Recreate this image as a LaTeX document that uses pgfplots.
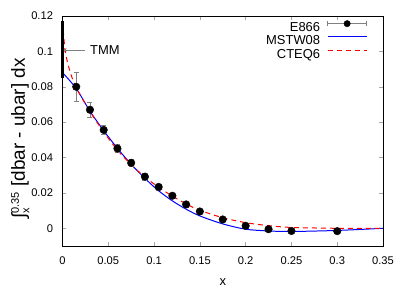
\documentclass[border=0pt]{standalone}
\usepackage{pgfplots}
\pgfplotsset{compat=1.18}
\usepackage{fontspec}
\setmainfont{Liberation Sans}
\setsansfont{Liberation Sans}
\begin{document}
\begin{tikzpicture}
\begin{axis}[
  at={(62.5bp,45bp)}, anchor=south west,
  scale only axis, width=320.5bp, height=230bp,
  xmin=0, xmax=0.35, ymin=-0.01, ymax=0.12,
  xtick={0,0.05,...,0.35}, ytick={0,0.02,...,0.12},
  scaled x ticks=false, scaled y ticks=false,
  /pgf/number format/assume math mode=true,
  /pgf/number format/fixed,
  /pgf/number format/precision=2,
  tick label style={font=\fontsize{11.2}{13}\selectfont},
  tick align=inside, major tick length=4bp,
  tick style={gray!70, thin},
  axis line style={black, thin},
  xlabel={x},
  ylabel={∫$^{\hbox{\fontsize{11}{11}\selectfont 0.35}}_{\hbox{\fontsize{11}{11}\selectfont x}}$ [dbar - ubar] dx},
  xlabel style={font=\fontsize{13}{15}\selectfont, at={(axis description cs:0.5,0)}, anchor=north, yshift=-28.8bp},
  ylabel style={font=\fontsize{19}{21}\selectfont, at={(axis description cs:-0.117,0.467)}, anchor=base},
  xticklabel style={yshift=-7bp},
  yticklabel style={xshift=-6bp},
  clip=false,
  legend plot pos=right,
  legend cell align=right,
  legend style={draw=none, fill=none, at={(axis cs:0.3329,0.1177)}, anchor=north east,
    font=\fontsize{13}{13}\selectfont, inner sep=0pt, column sep=7bp, row sep=1.5bp,
    nodes={inner sep=0pt, text height=9.3bp, text depth=2.5bp}},
]
\addlegendimage{legend image code/.code={
  \draw[gray, thin] (0bp,4.6bp) -- (39bp,4.6bp);
  \draw[gray, thin] (0bp,2.1bp) -- (0bp,7.1bp);
  \draw[gray, thin] (39bp,2.1bp) -- (39bp,7.1bp);
  \fill[black] (19.5bp,4.6bp) circle (3.2bp);}}
\addlegendentry{E866}
\addlegendimage{legend image code/.code={\draw[blue, line width=1pt] (0bp,4.6bp)--(39bp,4.6bp);}}
\addlegendentry{MSTW08}
\addlegendimage{legend image code/.code={\draw[red, line width=1pt, dash pattern=on 5bp off 4bp] (0bp,4.6bp)--(39bp,4.6bp);}}
\addlegendentry{CTEQ6}
\addplot[blue, line width=1pt, smooth, forget plot] coordinates {
(0,0.0880) (0.015,0.0790) (0.030,0.0662) (0.045,0.0552) (0.060,0.0452)
(0.075,0.0362) (0.090,0.0282) (0.105,0.0212) (0.120,0.0155) (0.135,0.0108)
(0.150,0.0070) (0.175,0.0025) (0.200,-0.0005) (0.225,-0.0015) (0.250,-0.0018)
(0.300,-0.0012) (0.350,0.0)};
\addplot[red, line width=1pt, dash pattern=on 5bp off 4bp, smooth, forget plot] coordinates {
(0,0.1170) (0.003,0.1000) (0.008,0.0890) (0.015,0.0795) (0.030,0.0660)
(0.045,0.0545) (0.060,0.0442) (0.075,0.0360) (0.090,0.0290) (0.105,0.0232)
(0.120,0.0182) (0.135,0.0138) (0.150,0.0102) (0.175,0.0060) (0.200,0.0032)
(0.225,0.0015) (0.250,0.0005) (0.300,0.0) (0.350,0.0)};
\addplot[only marks, mark=*, mark size=3.8bp, black, forget plot,
  error bars/.cd, y dir=both, y explicit, error bar style={gray, thin}, error mark options={rotate=90, mark size=2.5bp, gray}]
  table[x=x, y=y, y error=e] {
x y e
0.015 0.0800 0.0080
0.030 0.0670 0.0040
0.045 0.0556 0.0025
0.060 0.0451 0.0022
0.075 0.0370 0.0020
0.090 0.0292 0.0018
0.105 0.0234 0.0016
0.120 0.0184 0.0015
0.135 0.0135 0.0014
0.150 0.0095 0.0013
0.175 0.0050 0.0012
0.200 0.0014 0.0011
0.225 -0.0005 0.0010
0.250 -0.0015 0.0010
0.300 -0.0016 0.0010
};
\addplot[black, line width=3bp, forget plot] coordinates {(0,0.085) (0,0.117)};
\draw[gray, thin, -stealth] (axis cs:0.0246,0.1008) -- (axis cs:0.001,0.1008);
\node[anchor=west, inner sep=0pt, font=\fontsize{13}{15}\selectfont] at (axis cs:0.0300,0.1008) {TMM};
\end{axis}
\pgfresetboundingbox
\path (0,0) rectangle (415bp,291bp);
\end{tikzpicture}
\end{document}
